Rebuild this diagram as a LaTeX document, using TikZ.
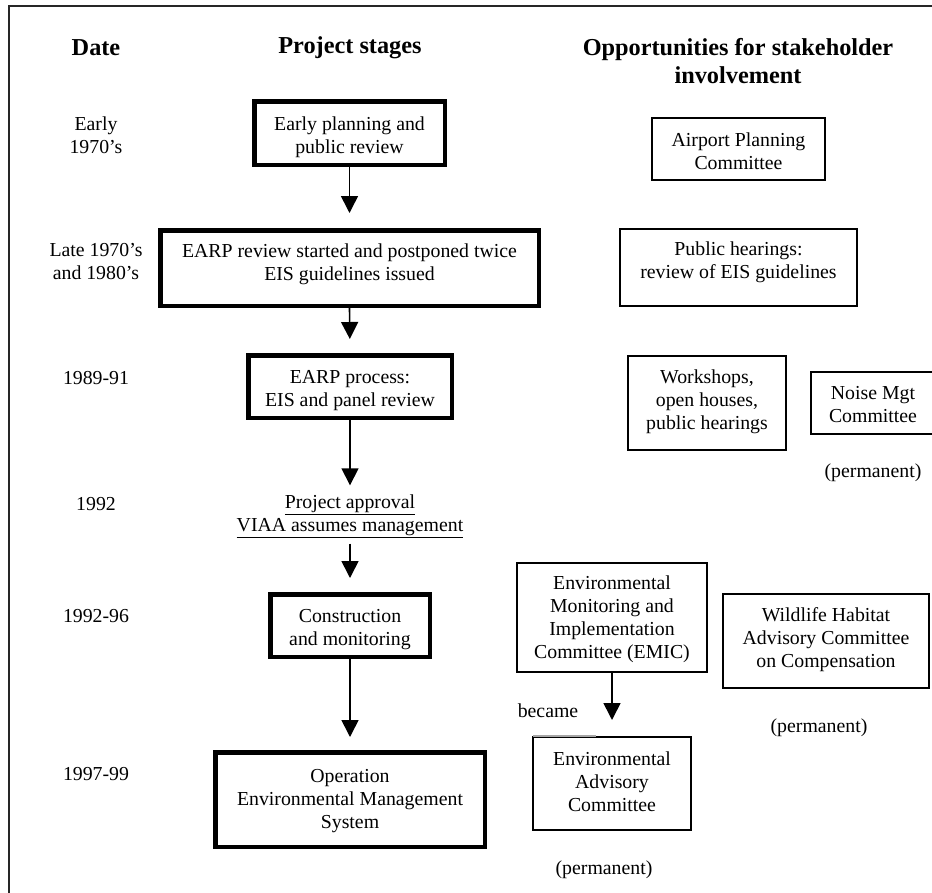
\documentclass[tikz,border=0pt]{standalone}
\usepackage{fontspec}
\setmainfont{Liberation Serif}
\usetikzlibrary{arrows.meta}
\begin{document}
\begin{tikzpicture}[x=1pt,y=-1pt,
  every node/.style={font=\fontsize{19.8}{23}\selectfont, align=center, inner sep=2pt},
  hdr/.style={font=\bfseries\fontsize{24.3}{28}\selectfont},
  stagebox/.style={draw, line width=4.5pt},
  oppbox/.style={draw, line width=2pt},
  arr/.style={-{Triangle[width=17pt,length=17pt]}, line width=1.6pt},
  frameline/.style={line width=2pt, black!85}]
\useasboundingbox (0,0) rectangle (932,892);
\clip (0,0) rectangle (932,892);
% frame
\coordinate (fbl) at (9,900);
\coordinate (ftl) at (9,6);
\coordinate (ftr) at (940,6);
\draw[frameline] (fbl) -- (ftl) -- (ftr);
% headers
\node[hdr] (hdate) at (96,48) {Date};
\node[hdr] (hstage) at (350,48) {Project stages};
\node[hdr] (hopp) at (738,61.5) {Opportunities for stakeholder\\involvement};
% dates
\node (d1) at (96,135) {Early\\1970’s};
\node (d2) at (96,262) {Late 1970’s\\and 1980’s};
\node (d3) at (96,378) {1989-91};
\node (d4) at (96,504) {1992};
\node (d5) at (96,616) {1992-96};
\node (d6) at (96,774) {1997-99};
% project stages
\node[stagebox, minimum width=190.5pt, minimum height=63.5pt] (b1) at (349.5,133) {};
\node (b1t) at (349.5,137) {Early planning and\\public review};
\node[stagebox, minimum width=378.5pt, minimum height=75.5pt] (b2) at (349.5,268) {};
\node (b2t) at (349.5,264) {EARP review started and postponed twice\\EIS guidelines issued};
\node[stagebox, minimum width=203.5pt, minimum height=62.5pt] (b3) at (350,386.5) {};
\node (b3t) at (350,391) {EARP process:\\EIS and panel review};
\node (appr) at (350,516) {\underline{Project approval}\\\underline{VIAA assumes management}};
\node[stagebox, minimum width=159.5pt, minimum height=62.5pt] (b4) at (350,625.5) {};
\node (b4t) at (350,629.5) {Construction\\and monitoring};
\node[stagebox, minimum width=269.5pt, minimum height=94.5pt] (b5) at (350,799.5) {};
\node (b5t) at (350,801) {Operation\\Environmental Management\\System};
% arrows
\draw[arr, shorten >=15pt] (b1.south) -- (b2.north);
\draw[arr, shorten >=14pt] (b2.south) -- (b3.north);
\draw[arr, shorten >=7pt] (b3.south) -- (appr.north);
\draw[arr, shorten <=4pt, shorten >=14pt] (appr.south) -- (b4.north);
\draw[arr, shorten >=13pt] (b4.south) -- (b5.north);
% opportunities
\node[oppbox, minimum width=173pt, minimum height=62pt] (o1) at (738.5,149) {};
\node (o1t) at (738.5,151) {Airport Planning\\Committee};
\node[oppbox, minimum width=237pt, minimum height=77pt] (o2) at (738.5,267.5) {};
\node (o2t) at (738.5,262) {Public hearings:\\review of EIS guidelines};
\node[oppbox, minimum width=158pt, minimum height=94pt] (o3) at (707,403) {};
\node (o3t) at (707,401.5) {Workshops,\\open houses,\\public hearings};
\node[oppbox, minimum width=124pt, minimum height=62pt] (o4) at (873,403) {};
\node (o4t) at (873,404.5) {Noise Mgt\\Committee};
\node (p1) at (873,473) {(permanent)};
\node[oppbox, minimum width=190pt, minimum height=109pt] (o5) at (612,617.5) {};
\node (o5t) at (612,619.5) {Environmental\\Monitoring and\\Implementation\\Committee (EMIC)};
\node[oppbox, minimum width=206pt, minimum height=94pt] (o6) at (826,641) {};
\node (o6t) at (826,639.5) {Wildlife Habitat\\Advisory Committee\\on Compensation};
\node[oppbox, minimum width=158pt, minimum height=93pt] (o7) at (612,783.5) {};
\node (o7t) at (612,782) {Environmental\\Advisory\\Committee};
\draw[line width=2pt, black!35] ([xshift=1pt]o7.north west) -- ++(63,0);
\node (p3) at (604,870) {(permanent)};
\node (bec) at (548,711) {became};
\draw[arr, shorten >=16pt] (o5.south) -- (o7.north);
\node (p2) at (819,728) {(permanent)};
\end{tikzpicture}
\end{document}
